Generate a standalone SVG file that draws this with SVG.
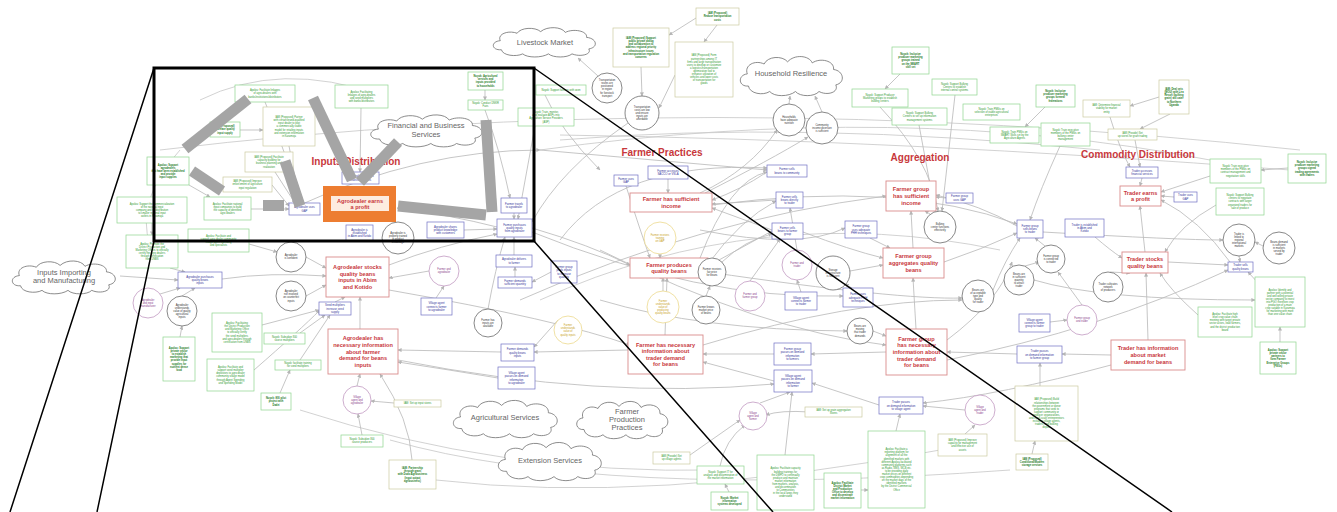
<svg xmlns="http://www.w3.org/2000/svg" width="1337" height="512" viewBox="0 0 1337 512">
<defs>
<style>
text{font-family:"Liberation Sans",Arial,sans-serif;text-anchor:middle}
.c path{fill:none;stroke:#bcbcbc;stroke-width:0.85;marker-end:url(#a)}
.c path.L{marker-end:none;stroke:#cacaca}
.nr{fill:#fff;stroke:#d98c8c;stroke-width:0.9}
.tr{font-size:5.6px;font-weight:bold;fill:#c8383c}
.nb{fill:#fff;stroke:#6f6fc4;stroke-width:0.7}
.tb{font-size:2.8px;fill:#34349a}
.ng{fill:#fff;stroke:#8ed58e;stroke-width:0.7}
.ny{fill:#fff;stroke:#cbcaa0;stroke-width:0.7}
.tg{font-size:2.6px;fill:#2f9a2f}
.tgb{font-size:2.6px;font-weight:bold;fill:#1d7a1d}
.ck{fill:#fff;stroke:#555;stroke-width:0.7}
.tk{font-size:2.6px;fill:#333}
.cp{fill:#fff;stroke:#b98bb9;stroke-width:0.7}
.tp{font-size:2.6px;fill:#8b3d8b}
.cy{fill:#fff;stroke:#e9d47c;stroke-width:0.7}
.ty{font-size:2.6px;fill:#c9a21a}
.cl{fill:#fff;stroke:#6e6e6e;stroke-width:0.8}
.tc{font-size:7.5px;fill:#666666}
.h{font-size:10px;font-weight:bold;fill:#c8383c}
.bar{stroke:#a5a5a5;stroke-width:11;fill:none}
</style>
<marker id="a" markerUnits="userSpaceOnUse" markerWidth="4" markerHeight="4" refX="3.6" refY="2" orient="auto"><path d="M0,0 L4,2 L0,4 Z" fill="#b5b5b5"/></marker>
<path id="cloudp" d="M12,30 C3,31 2,20 11,19 C8,11 18,6 26,10 C29,3 42,2 47,8 C53,1 66,2 69,9 C76,4 89,7 88,15 C97,16 99,27 90,29 C93,36 82,39 75,35 C71,40 58,40 54,35 C48,40 35,40 31,35 C25,39 13,37 12,30 Z" class="cl" vector-effect="non-scaling-stroke"/>
</defs>
<rect width="1337" height="512" fill="#fff"/>

<g id="connectors" class="c">
<path class="L" d="M160,150 Q700,85 1300,150"/>
<path class="L" d="M540,150 Q900,100 1210,160"/>
<path class="L" d="M436,480 Q650,505 940,450"/>
<path class="L" d="M300,410 Q500,475 720,470"/>
<path class="L" d="M180,150 Q135,200 150,245"/>
<path class="L" d="M200,100 Q280,60 380,95"/>
<path class="L" d="M560,140 Q800,120 1100,150"/>
<path class="L" d="M540,300 Q760,200 1000,250"/>
<path class="L" d="M390,440 Q600,500 1010,470"/>
<path class="L" d="M560,135 Q900,140 1290,170"/>
<path d="M497,227 Q450,215 397,208"/>
<path d="M464,230 L497,229"/>
<path d="M514,213 L514,219"/>
<path d="M514,255 L514,237"/>
<path d="M515,277 L515,267"/>
<path d="M551,272 L532,282"/>
<path d="M389,265 Q440,245 497,234"/>
<path d="M306,257 L326,268"/>
<path d="M306,296 L326,285"/>
<path d="M222,279 Q270,272 326,276"/>
<path d="M120,276 L178,280"/>
<path d="M160,294 L180,288"/>
<path d="M182,296 L195,288"/>
<path d="M335,302 L345,297"/>
<path d="M360,329 L360,297"/>
<path d="M357,386 L360,374"/>
<path d="M498,378 Q450,370 398,362"/>
<path d="M501,352 L398,350"/>
<path d="M429,271 L389,278"/>
<path d="M436,298 L444,286"/>
<path d="M488,309 Q495,270 505,237"/>
<path d="M558,320 L534,347"/>
<path d="M628,350 L534,352"/>
<path d="M532,228 Q590,245 630,265"/>
<path d="M626,186 Q640,230 650,258"/>
<path d="M660,254 L660,258"/>
<path d="M663,291 L663,278"/>
<path d="M708,266 L772,231"/>
<path d="M708,264 Q740,220 776,201"/>
<path d="M700,258 Q730,180 767,172"/>
<path d="M767,172 Q740,190 712,200"/>
<path d="M776,200 L712,204"/>
<path d="M772,230 L712,208"/>
<path d="M668,179 L668,193"/>
<path d="M700,193 Q750,170 777,130"/>
<path d="M705,193 Q770,160 808,137"/>
<path d="M789,104 L790,96"/>
<path d="M822,112 L815,96"/>
<path d="M598,76 L578,58"/>
<path d="M641,67 L642,96"/>
<path d="M717,25 L704,42"/>
<path d="M696,18 L669,35"/>
<path d="M675,75 L659,108"/>
<path d="M628,123 Q560,170 532,222"/>
<path d="M797,250 L790,208"/>
<path d="M801,292 L797,280"/>
<path d="M750,281 L780,239"/>
<path d="M722,262 Q745,240 772,234"/>
<path d="M706,296 L710,286"/>
<path d="M852,288 L845,284"/>
<path d="M850,271 L883,265"/>
<path d="M870,238 L890,248"/>
<path d="M913,248 L911,211"/>
<path d="M930,214 L925,211"/>
<path d="M946,198 L936,197"/>
<path d="M880,107 Q930,160 938,211"/>
<path d="M955,95 L942,211"/>
<path d="M919,125 L935,211"/>
<path d="M803,232 Q850,250 883,258"/>
<path d="M993,290 Q1005,260 1020,238"/>
<path d="M1017,226 Q980,205 936,195"/>
<path d="M944,262 Q980,250 1017,233"/>
<path d="M1045,246 L1035,238"/>
<path d="M1025,266 L1039,262"/>
<path d="M1082,305 L1058,272"/>
<path d="M1050,322 L1067,320"/>
<path d="M1095,237 Q1110,250 1122,258"/>
<path d="M1110,272 L1130,273"/>
<path d="M1145,252 L1140,206"/>
<path d="M1142,178 L1140,186"/>
<path d="M1174,197 L1161,196"/>
<path d="M1230,262 Q1200,220 1161,200"/>
<path d="M1239,256 L1240,262"/>
<path d="M1263,246 L1255,242"/>
<path d="M1148,340 L1146,273"/>
<path d="M1111,355 L1062,354"/>
<path d="M1017,354 L947,352"/>
<path d="M886,352 L811,354"/>
<path d="M774,354 L703,354"/>
<path d="M774,381 L703,362"/>
<path d="M879,405 L812,383"/>
<path d="M965,410 L923,406"/>
<path d="M760,403 L790,392"/>
<path d="M1111,365 Q1000,395 923,403"/>
<path d="M873,331 L886,336"/>
<path d="M916,329 L913,278"/>
<path d="M665,335 L667,278"/>
<path d="M265,102 Q285,150 300,203"/>
<path d="M289,146 L300,203"/>
<path d="M240,130 L263,130"/>
<path d="M275,172 L295,203"/>
<path d="M189,185 L210,197"/>
<path d="M272,185 L289,206"/>
<path d="M251,209 L289,209"/>
<path d="M152,223 L152,235"/>
<path d="M249,244 L277,252"/>
<path d="M170,268 L185,272"/>
<path d="M361,108 L360,172"/>
<path d="M485,90 L485,100"/>
<path d="M485,110 Q500,150 510,198"/>
<path d="M545,95 Q560,130 600,170"/>
<path d="M535,126 L518,219"/>
<path d="M900,74 L885,89"/>
<path d="M1045,107 L1025,127"/>
<path d="M1060,146 Q1040,190 1030,220"/>
<path d="M1110,117 Q1120,150 1130,167"/>
<path d="M1159,97 L1130,106"/>
<path d="M1170,114 L1140,129"/>
<path d="M1135,140 L1140,167"/>
<path d="M1288,168 L1261,170"/>
<path d="M1210,176 L1161,192"/>
<path d="M1216,205 Q1180,225 1165,252"/>
<path d="M1260,285 L1248,272"/>
<path d="M1198,315 Q1170,290 1160,273"/>
<path d="M1280,342 L1280,327"/>
<path d="M1040,386 L1040,363"/>
<path d="M1032,454 L1035,441"/>
<path d="M965,434 L975,425"/>
<path d="M810,412 Q780,410 766,415"/>
<path d="M896,431 L900,414"/>
<path d="M861,490 L868,490"/>
<path d="M785,455 L792,392"/>
<path d="M729,492 L725,484"/>
<path d="M720,466 Q725,440 745,425"/>
<path d="M690,455 L740,420"/>
<path d="M394,403 L371,401"/>
<path d="M362,435 L358,414"/>
<path d="M412,460 Q410,420 380,374"/>
<path d="M180,337 L182,326"/>
<path d="M254,370 Q300,330 320,310"/>
<path d="M262,325 L319,310"/>
<path d="M300,333 L325,315"/>
<path d="M300,360 L330,315"/>
<path d="M280,393 L290,370"/>
<path d="M712,205 Q900,180 1017,224"/>
<path d="M708,272 Q900,300 962,298"/>
<path d="M703,345 Q850,300 962,300"/>
<path d="M540,150 L767,170"/>
<path d="M600,300 Q700,330 847,331"/>
<path d="M947,360 Q1100,330 1228,270"/>
<path d="M1034,280 Q1100,300 1255,300"/>
<path d="M700,230 Q800,250 845,228"/>
<path d="M560,240 Q620,160 767,168"/>
<path d="M520,300 Q700,220 886,196"/>
<path d="M398,360 Q600,400 774,384"/>
<path d="M389,290 Q560,320 630,345"/>
<path d="M947,340 Q1000,300 1012,262"/>
<path d="M1168,262 L1228,265"/>
<path d="M300,205 Q420,150 540,150"/>
<path d="M532,232 Q700,300 843,296"/>
<path d="M600,250 Q760,330 886,345"/>
<path d="M1043,232 Q1180,240 1223,240"/>
</g>

<g id="clouds">
<g id="cloud-livestock"><use href="#cloudp" transform="translate(488,25) scale(1.12,0.825)"/><text class="tc" x="545" y="45">Livestock Market</text></g>
<g id="cloud-household"><use href="#cloudp" transform="translate(735,53) scale(1.12,1.1)"/><text class="tc" x="791" y="76">Household Resilience</text></g>
<g id="cloud-financial"><use href="#cloudp" transform="translate(365,112) scale(1.22,0.9)"/><text class="tc" x="426" y="128">Financial and Business<tspan x="426" dy="8.5">Services</tspan></text></g>
<g id="cloud-inputs"><use href="#cloudp" transform="translate(7,258) scale(1.13,0.925)"/><text class="tc" x="64" y="275">Inputs Importing<tspan x="64" dy="8">and Manufacturing</tspan></text></g>
<g id="cloud-agri"><use href="#cloudp" transform="translate(448,397) scale(1.14,1.05)"/><text class="tc" x="505" y="420">Agricultural Services</text></g>
<g id="cloud-fpp"><use href="#cloudp" transform="translate(572,398) scale(1.0,1.05)"/><text class="tc" x="627" y="414">Farmer<tspan x="627" dy="8">Production</tspan><tspan x="627" dy="8">Practices</tspan></text></g>
<g id="cloud-ext"><use href="#cloudp" transform="translate(493,439) scale(1.13,1.075)"/><text class="tc" x="550" y="463">Extension Services</text></g>
</g>

<g id="headings">
<text class="h" x="356" y="165">Inputs Distribution</text>
<text class="h" x="662" y="156">Farmer Practices</text>
<text class="h" x="920" y="161">Aggregation</text>
<text class="h" x="1138" y="158">Commodity Distribution</text>
</g>

<g id="outcomes">
<g id="r1"><rect x="323" y="186" width="73" height="36" fill="#ed7d31"/><rect x="331" y="196" width="58" height="15" fill="#fff" opacity="0.85"/><text class="tr" x="360" y="202.7">Agrodealer earns<tspan x="360" dy="6.6">a profit</tspan></text></g>
<g id="r2"><rect class="nr" x="326" y="257" width="63" height="40"/><text class="tr" x="357.5" y="269.1">Agrodealer stocks<tspan x="357.5" dy="6.6">quality beans</tspan><tspan x="357.5" dy="6.6">inputs in Abim</tspan><tspan x="357.5" dy="6.6">and Kotido</tspan></text></g>
<g id="r3"><rect class="nr" x="328" y="329" width="70" height="45"/><text class="tr" x="363" y="340.3">Agrodealer has<tspan x="363" dy="6.6">necessary information</tspan><tspan x="363" dy="6.6">about farmer</tspan><tspan x="363" dy="6.6">demand for beans</tspan><tspan x="363" dy="6.6">inputs</tspan></text></g>
<g id="r4"><rect class="nr" x="630" y="193" width="82" height="19"/><text class="tr" x="671" y="201.2">Farmer has sufficient<tspan x="671" dy="6.6">income</tspan></text></g>
<g id="r5"><rect class="nr" x="630" y="258" width="78" height="20"/><text class="tr" x="669" y="266.7">Farmer produces<tspan x="669" dy="6.6">quality beans</tspan></text></g>
<g id="r6"><rect class="nr" x="628" y="335" width="75" height="39"/><text class="tr" x="665.5" y="346.6">Farmer has necessary<tspan x="665.5" dy="6.6">information about</tspan><tspan x="665.5" dy="6.6">trader demand</tspan><tspan x="665.5" dy="6.6">for beans</tspan></text></g>
<g id="r7"><rect class="nr" x="886" y="181" width="50" height="30"/><text class="tr" x="911" y="191.4">Farmer group<tspan x="911" dy="6.6">has sufficient</tspan><tspan x="911" dy="6.6">income</tspan></text></g>
<g id="r8"><rect class="nr" x="883" y="248" width="61" height="30"/><text class="tr" x="913.5" y="258.4">Farmer group<tspan x="913.5" dy="6.6">aggregates quality</tspan><tspan x="913.5" dy="6.6">beans</tspan></text></g>
<g id="r9"><rect class="nr" x="886" y="329" width="61" height="46"/><text class="tr" x="916.5" y="340.8">Farmer group<tspan x="916.5" dy="6.6">has necessary</tspan><tspan x="916.5" dy="6.6">information about</tspan><tspan x="916.5" dy="6.6">trader demand</tspan><tspan x="916.5" dy="6.6">for beans</tspan></text></g>
<g id="r10"><rect class="nr" x="1120" y="186" width="41" height="20"/><text class="tr" x="1140.5" y="194.7">Trader earns<tspan x="1140.5" dy="6.6">a profit</tspan></text></g>
<g id="r11"><rect class="nr" x="1122" y="252" width="46" height="21"/><text class="tr" x="1145" y="261.2">Trader stocks<tspan x="1145" dy="6.6">quality beans</tspan></text></g>
<g id="r12"><rect class="nr" x="1111" y="340" width="74" height="30"/><text class="tr" x="1148" y="350.4">Trader has information<tspan x="1148" dy="6.6">about market</tspan><tspan x="1148" dy="6.6">demand for beans</tspan></text></g>
</g>

<g id="activities">
<g id="b1"><rect class="nb" x="289" y="203" width="31" height="12"/><text class="tb" x="304.5" y="208.35">Agrodealer uses<tspan x="304.5" dy="3.3">GAP</tspan></text></g>
<g id="b2"><rect class="nb" x="342" y="172" width="37" height="12"/><text class="tb" x="360.5" y="177.35">Agrodealer accesses<tspan x="360.5" dy="3.3">financial services</tspan></text></g>
<g id="b3"><rect class="nb" x="346" y="225" width="27" height="16"/><text class="tb" x="359.5" y="230.7">Agrodealer is<tspan x="359.5" dy="3.3">established</tspan><tspan x="359.5" dy="3.3">in Abim and Kotido</tspan></text></g>
<g id="b4"><rect class="nb" x="427" y="222" width="37" height="16"/><text class="tb" x="445.5" y="227.7">Agrodealer shares<tspan x="445.5" dy="3.3">product knowledge</tspan><tspan x="445.5" dy="3.3">with customers</tspan></text></g>
<g id="b5"><rect class="nb" x="501" y="198" width="26" height="15"/><text class="tb" x="514" y="204.85">Farmer travels<tspan x="514" dy="3.3">to agrodealer</tspan></text></g>
<g id="b6"><rect class="nb" x="497" y="219" width="35" height="18"/><text class="tb" x="514.5" y="225.7">Farmer purchases<tspan x="514.5" dy="3.3">quality inputs</tspan><tspan x="514.5" dy="3.3">from agrodealer</tspan></text></g>
<g id="b7"><rect class="nb" x="496" y="255" width="36" height="12"/><text class="tb" x="514" y="260.35">Agrodealer delivers<tspan x="514" dy="3.3">to farmer</tspan></text></g>
<g id="b8"><rect class="nb" x="498" y="277" width="34" height="11"/><text class="tb" x="515" y="281.85">Farmer demands<tspan x="515" dy="3.3">sufficient quantity</tspan></text></g>
<g id="b9"><rect class="nb" x="551" y="261" width="26" height="22"/><text class="tb" x="564" y="268.05">Farmer group<tspan x="564" dy="3.3">pools inputs</tspan><tspan x="564" dy="3.3">to increase</tspan><tspan x="564" dy="3.3">quantity</tspan></text></g>
<g id="b10"><rect class="nb" x="178" y="272" width="44" height="16"/><text class="tb" x="200" y="277.7">Agrodealer purchases<tspan x="200" dy="3.3">quality beans</tspan><tspan x="200" dy="3.3">inputs</tspan></text></g>
<g id="b11"><rect class="nb" x="319" y="302" width="32" height="13"/><text class="tb" x="335" y="306.2">Seed multipliers<tspan x="335" dy="3.3">increase seed</tspan><tspan x="335" dy="3.3">supply</tspan></text></g>
<g id="b12"><rect class="nb" x="501" y="344" width="33" height="17"/><text class="tb" x="517.5" y="350.2">Farmer demands<tspan x="517.5" dy="3.3">quality beans</tspan><tspan x="517.5" dy="3.3">inputs</tspan></text></g>
<g id="b13"><rect class="nb" x="498" y="367" width="37" height="22"/><text class="tb" x="516.5" y="374.05">Village agent<tspan x="516.5" dy="3.3">passes on demand</tspan><tspan x="516.5" dy="3.3">information</tspan><tspan x="516.5" dy="3.3">to agrodealer</tspan></text></g>
<g id="b14"><rect class="nb" x="421" y="298" width="31" height="17"/><text class="tb" x="436.5" y="304.2">Village agent<tspan x="436.5" dy="3.3">connects farmer</tspan><tspan x="436.5" dy="3.3">to agrodealer</tspan></text></g>
<g id="b15"><rect class="nb" x="648" y="166" width="40" height="13"/><text class="tb" x="668" y="171.85">Farmer accesses<tspan x="668" dy="3.3">SACCO or VSLA</tspan></text></g>
<g id="b16"><rect class="nb" x="614" y="175" width="24" height="11"/><text class="tb" x="626" y="179.85">Farmer uses<tspan x="626" dy="3.3">GAP</tspan></text></g>
<g id="b17"><rect class="nb" x="767" y="165" width="40" height="12"/><text class="tb" x="787" y="170.35">Farmer sells<tspan x="787" dy="3.3">beans to community</tspan></text></g>
<g id="b18"><rect class="nb" x="776" y="192" width="27" height="16"/><text class="tb" x="789.5" y="197.7">Farmer sells<tspan x="789.5" dy="3.3">beans directly</tspan><tspan x="789.5" dy="3.3">to trader</tspan></text></g>
<g id="b19"><rect class="nb" x="772" y="223" width="31" height="16"/><text class="tb" x="787.5" y="228.7">Farmer sells<tspan x="787.5" dy="3.3">beans to farmer</tspan><tspan x="787.5" dy="3.3">group</tspan></text></g>
<g id="b20"><rect class="nb" x="845" y="221" width="32" height="17"/><text class="tb" x="861" y="227.2">Farmer group<tspan x="861" dy="3.3">uses adequate</tspan><tspan x="861" dy="3.3">PHH techniques</tspan></text></g>
<g id="b21"><rect class="nb" x="946" y="193" width="27" height="10"/><text class="tb" x="959.5" y="197.35">Farmer group<tspan x="959.5" dy="3.3">uses GAP</tspan></text></g>
<g id="b22"><rect class="nb" x="785" y="292" width="32" height="18"/><text class="tb" x="801" y="298.7">Village agent<tspan x="801" dy="3.3">connects farmer</tspan><tspan x="801" dy="3.3">to trader</tspan></text></g>
<g id="b23"><rect class="nb" x="843" y="288" width="30" height="19"/><text class="tb" x="858" y="295.2">Farmer uses<tspan x="858" dy="3.3">adequate PHH</tspan><tspan x="858" dy="3.3">techniques</tspan></text></g>
<g id="b24"><rect class="nb" x="774" y="343" width="37" height="22"/><text class="tb" x="792.5" y="350.05">Farmer group<tspan x="792.5" dy="3.3">passes on demand</tspan><tspan x="792.5" dy="3.3">information</tspan><tspan x="792.5" dy="3.3">to farmers</tspan></text></g>
<g id="b25"><rect class="nb" x="774" y="370" width="38" height="22"/><text class="tb" x="793" y="377.05">Village agent<tspan x="793" dy="3.3">passes on demand</tspan><tspan x="793" dy="3.3">information</tspan><tspan x="793" dy="3.3">to farmer</tspan></text></g>
<g id="b26"><rect class="nb" x="879" y="397" width="44" height="17"/><text class="tb" x="901" y="403.2">Trader passes<tspan x="901" dy="3.3">on demand information</tspan><tspan x="901" dy="3.3">to village agent</tspan></text></g>
<g id="b27"><rect class="nb" x="1017" y="346" width="45" height="17"/><text class="tb" x="1039.5" y="352.2">Trader passes<tspan x="1039.5" dy="3.3">on demand information</tspan><tspan x="1039.5" dy="3.3">to farmer group</tspan></text></g>
<g id="b28"><rect class="nb" x="1126" y="167" width="32" height="11"/><text class="tb" x="1142" y="171.85">Trader accesses<tspan x="1142" dy="3.3">financial services</tspan></text></g>
<g id="b29"><rect class="nb" x="1174" y="192" width="23" height="10"/><text class="tb" x="1185.5" y="196.35">Trader uses<tspan x="1185.5" dy="3.3">GAP</tspan></text></g>
<g id="b30"><rect class="nb" x="1017" y="220" width="26" height="18"/><text class="tb" x="1030" y="226.7">Farmer group<tspan x="1030" dy="3.3">sells beans</tspan><tspan x="1030" dy="3.3">to trader</tspan></text></g>
<g id="b31"><rect class="nb" x="1065" y="219" width="39" height="18"/><text class="tb" x="1084.5" y="225.7">Trader is established<tspan x="1084.5" dy="3.3">in Abim and</tspan><tspan x="1084.5" dy="3.3">Kotido</tspan></text></g>
<g id="b32"><rect class="nb" x="1228" y="262" width="25" height="10"/><text class="tb" x="1240.5" y="266.35">Trader sells<tspan x="1240.5" dy="3.3">quality beans</tspan></text></g>
<g id="b33"><rect class="nb" x="1019" y="314" width="31" height="18"/><text class="tb" x="1034.5" y="320.7">Village agent<tspan x="1034.5" dy="3.3">connects farmer</tspan><tspan x="1034.5" dy="3.3">group to trader</tspan></text></g>
</g>

<g id="conditions">
<g id="c1"><circle class="ck" cx="607" cy="88" r="15"/><text class="tk" x="607" y="81.15">Transportation<tspan x="607" dy="3.1">routes are</tspan><tspan x="607" dy="3.1">positioned</tspan><tspan x="607" dy="3.1">in region</tspan><tspan x="607" dy="3.1">for livestock</tspan><tspan x="607" dy="3.1">transport</tspan></text></g>
<g id="c2"><circle class="ck" cx="642" cy="113" r="17"/><text class="tk" x="642" y="107.7">Transportation<tspan x="642" dy="3.1">costs are low</tspan><tspan x="642" dy="3.1">and ensure</tspan><tspan x="642" dy="3.1">inputs are</tspan><tspan x="642" dy="3.1">affordable</tspan></text></g>
<g id="c3"><circle class="ck" cx="789" cy="120" r="16"/><text class="tk" x="789" y="117.8">Households<tspan x="789" dy="3.1">have adequate</tspan><tspan x="789" dy="3.1">nutrition</tspan></text></g>
<g id="c4"><circle class="ck" cx="822" cy="128" r="16"/><text class="tk" x="822" y="125.8">Community<tspan x="822" dy="3.1">income diversion</tspan><tspan x="822" dy="3.1">is sufficient</tspan></text></g>
<g id="c5"><circle class="ck" cx="940" cy="227" r="16"/><text class="tk" x="940" y="224.8">Bulking<tspan x="940" dy="3.1">center functions</tspan><tspan x="940" dy="3.1">effectively</tspan></text></g>
<g id="c6"><circle class="ck" cx="833" cy="273" r="17"/><text class="tk" x="833" y="270.8">Storage<tspan x="833" dy="3.1">infrastructure</tspan><tspan x="833" dy="3.1">is sufficient</tspan></text></g>
<g id="c7"><circle class="ck" cx="706" cy="310" r="14"/><text class="tk" x="706" y="307.8">Farmer knows<tspan x="706" dy="3.1">market price</tspan><tspan x="706" dy="3.1">of beans</tspan></text></g>
<g id="c8"><circle class="ck" cx="712" cy="272" r="14"/><text class="tk" x="712" y="269.8">Farmer receives<tspan x="712" dy="3.1">fair price</tspan><tspan x="712" dy="3.1">for beans</tspan></text></g>
<g id="c9"><circle class="ck" cx="978" cy="296" r="16"/><text class="tk" x="978" y="290.7">Beans are<tspan x="978" dy="3.1">of acceptable</tspan><tspan x="978" dy="3.1">type and</tspan><tspan x="978" dy="3.1">quality</tspan><tspan x="978" dy="3.1">for trader</tspan></text></g>
<g id="c10"><circle class="ck" cx="860" cy="331" r="13"/><text class="tk" x="860" y="327.25">Beans are<tspan x="860" dy="3.1">moving</tspan><tspan x="860" dy="3.1">that trader</tspan><tspan x="860" dy="3.1">demands</tspan></text></g>
<g id="c11"><circle class="ck" cx="1051" cy="259" r="14"/><text class="tk" x="1051" y="256.8">Farmer group<tspan x="1051" dy="3.1">is connected</tspan><tspan x="1051" dy="3.1">to trader</tspan></text></g>
<g id="c12"><circle class="ck" cx="1019" cy="280" r="15"/><text class="tk" x="1019" y="274.7">Beans are<tspan x="1019" dy="3.1">in sufficient</tspan><tspan x="1019" dy="3.1">quantity</tspan><tspan x="1019" dy="3.1">to attract</tspan><tspan x="1019" dy="3.1">trader</tspan></text></g>
<g id="c13"><circle class="ck" cx="1108" cy="287" r="15"/><text class="tk" x="1108" y="284.8">Trader cultivates<tspan x="1108" dy="3.1">network</tspan><tspan x="1108" dy="3.1">of producers</tspan></text></g>
<g id="c14"><circle class="ck" cx="1239" cy="240" r="16"/><text class="tk" x="1239" y="234.7">Trader is<tspan x="1239" dy="3.1">linked to</tspan><tspan x="1239" dy="3.1">regional</tspan><tspan x="1239" dy="3.1">international</tspan><tspan x="1239" dy="3.1">markets</tspan></text></g>
<g id="c15"><circle class="ck" cx="1279" cy="248" r="16"/><text class="tk" x="1279" y="242.7">Beans demand<tspan x="1279" dy="3.1">is sufficient</tspan><tspan x="1279" dy="3.1">in markets</tspan><tspan x="1279" dy="3.1">served by</tspan><tspan x="1279" dy="3.1">trader</tspan></text></g>
<g id="c16"><circle class="ck" cx="291" cy="257" r="15"/><text class="tk" x="291" y="256.35">Agrodealer<tspan x="291" dy="3.1">is confident</tspan></text></g>
<g id="c17"><circle class="ck" cx="291" cy="296" r="15"/><text class="tk" x="291" y="292.25">Agrodealer<tspan x="291" dy="3.1">not involved</tspan><tspan x="291" dy="3.1">on counterfeit</tspan><tspan x="291" dy="3.1">inputs</tspan></text></g>
<g id="c18"><circle class="ck" cx="182" cy="311" r="15"/><text class="tk" x="182" y="305.7">Agrodealer<tspan x="182" dy="3.1">understands</tspan><tspan x="182" dy="3.1">value of quality</tspan><tspan x="182" dy="3.1">agricultural</tspan><tspan x="182" dy="3.1">inputs</tspan></text></g>
<g id="c19"><circle class="ck" cx="488" cy="323" r="14"/><text class="tk" x="488" y="320.8">Farmer has<tspan x="488" dy="3.1">inputs are</tspan><tspan x="488" dy="3.1">available</tspan></text></g>
<g id="c20"><circle class="ck" cx="398" cy="238" r="16"/><text class="tk" x="398" y="233.5">Agrodealer is<tspan x="398" dy="3.1">properly trained</tspan><tspan x="398" dy="3.1">in product</tspan><tspan x="398" dy="3.1">knowledge</tspan></text></g>
<g id="p1"><circle class="cp" cx="148" cy="303" r="15"/><text class="tp" x="148" y="300.8">Agrodealer<tspan x="148" dy="3.1">and input</tspan><tspan x="148" dy="3.1">manufacturer</tspan></text></g>
<g id="p2"><circle class="cp" cx="444" cy="271" r="15"/><text class="tp" x="444" y="270.35">Farmer and<tspan x="444" dy="3.1">agrodealer</tspan></text></g>
<g id="p3"><circle class="cp" cx="357" cy="400" r="14"/><text class="tp" x="357" y="397.8">Village<tspan x="357" dy="3.1">agent and</tspan><tspan x="357" dy="3.1">agrodealer</tspan></text></g>
<g id="p4"><circle class="cp" cx="797" cy="265" r="15"/><text class="tp" x="797" y="264.35">Farmer and<tspan x="797" dy="3.1">trader</tspan></text></g>
<g id="p5"><circle class="cp" cx="750" cy="296" r="15"/><text class="tp" x="750" y="295.35">Farmer and<tspan x="750" dy="3.1">farmer group</tspan></text></g>
<g id="p6"><circle class="cp" cx="753" cy="416" r="14"/><text class="tp" x="753" y="413.8">Village<tspan x="753" dy="3.1">agent and</tspan><tspan x="753" dy="3.1">farmer</tspan></text></g>
<g id="p7"><circle class="cp" cx="1082" cy="320" r="15"/><text class="tp" x="1082" y="319.35">Farmer group<tspan x="1082" dy="3.1">and trader</tspan></text></g>
<g id="p8"><circle class="cp" cx="980" cy="410" r="15"/><text class="tp" x="980" y="407.8">Village<tspan x="980" dy="3.1">agent and</tspan><tspan x="980" dy="3.1">trader</tspan></text></g>
<g id="y1"><circle class="cy" cx="660" cy="238" r="16"/><text class="ty" x="660" y="235.8">Farmer receives<tspan x="660" dy="3.1">training</tspan><tspan x="660" dy="3.1">on GAP</tspan></text></g>
<g id="y2"><circle class="cy" cx="663" cy="307" r="16"/><text class="ty" x="663" y="301.7">Farmer<tspan x="663" dy="3.1">understands</tspan><tspan x="663" dy="3.1">value of</tspan><tspan x="663" dy="3.1">producing</tspan><tspan x="663" dy="3.1">quality beans</tspan></text></g>
<g id="y3"><circle class="cy" cx="568" cy="330" r="14"/><text class="ty" x="568" y="326.25">Farmer<tspan x="568" dy="3.1">understands</tspan><tspan x="568" dy="3.1">value of</tspan><tspan x="568" dy="3.1">quality inputs</tspan></text></g>
</g>

<g id="interventions">
<g id="g1"><rect class="ng" x="235" y="85" width="60" height="17"/><text class="tg" x="265" y="91.3">Apolou: Facilitate linkages<tspan x="265" dy="3.1">of agro-dealers with</tspan><tspan x="265" dy="3.1">banks/institutions/distributors</tspan></text></g>
<g id="g2"><rect class="ny" x="263" y="107" width="52" height="39"/><text class="tg" x="289" y="118.1">IAM (Proposed) Partner<tspan x="289" dy="3.1">with certain brand-qualified</tspan><tspan x="289" dy="3.1">input dealer to pilot</tspan><tspan x="289" dy="3.1">a commercially viable</tspan><tspan x="289" dy="3.1">model for retailing inputs</tspan><tspan x="289" dy="3.1">and extension information</tspan><tspan x="289" dy="3.1">in Karamoja</tspan></text></g>
<g id="g3"><rect class="ng" x="210" y="122" width="30" height="15"/><text class="tgb" x="225" y="127.3">IAM (Proposed)<tspan x="225" dy="3.1">Increase quality</tspan><tspan x="225" dy="3.1">input supply</tspan></text></g>
<g id="g4"><rect class="ny" x="245" y="152" width="48" height="20"/><text class="tg" x="269" y="158.25">IAM (Proposed) Facilitate<tspan x="269" dy="3.1">capacity building for</tspan><tspan x="269" dy="3.1">business planning and</tspan><tspan x="269" dy="3.1">realization</tspan></text></g>
<g id="g5"><rect class="ng" x="147" y="157" width="42" height="28"/><text class="tgb" x="168" y="165.7">Apolou: Support<tspan x="168" dy="3.1">agrodealers</tspan><tspan x="168" dy="3.1">that have been established</tspan><tspan x="168" dy="3.1">and provide</tspan><tspan x="168" dy="3.1">input supplies</tspan></text></g>
<g id="g6"><rect class="ny" x="223" y="177" width="49" height="15"/><text class="tg" x="247.5" y="182.3">IAM (Proposed) Improve<tspan x="247.5" dy="3.1">enforcement of agriculture</tspan><tspan x="247.5" dy="3.1">input regulation</tspan></text></g>
<g id="g7"><rect class="ng" x="204" y="197" width="47" height="23"/><text class="tg" x="227.5" y="204.75">Apolou: Facilitate national<tspan x="227.5" dy="3.1">input companies to build</tspan><tspan x="227.5" dy="3.1">the capacity of identified</tspan><tspan x="227.5" dy="3.1">agro dealers</tspan></text></g>
<g id="g8"><rect class="ng" x="117" y="197" width="70" height="26"/><text class="tg" x="152" y="204.7">Apolou: Support the commercialization<tspan x="152" dy="3.1">of the national input</tspan><tspan x="152" dy="3.1">company and its distribution</tspan><tspan x="152" dy="3.1">to smaller regional input</tspan><tspan x="152" dy="3.1">outlets in Karamoja</tspan></text></g>
<g id="g9"><rect class="ng" x="188" y="229" width="61" height="23"/><text class="tg" x="218.5" y="236.75">Apolou: Facilitate and<tspan x="218.5" dy="3.1">support agro dealer community</tspan><tspan x="218.5" dy="3.1">village agent spending</tspan><tspan x="218.5" dy="3.1">and specialists</tspan></text></g>
<g id="g10"><rect class="ng" x="126" y="235" width="52" height="33"/><text class="tg" x="152" y="244.65">Apolou: Promote the<tspan x="152" dy="3.1">District Production and</tspan><tspan x="152" dy="3.1">Marketing Offices to officially</tspan><tspan x="152" dy="3.1">certify the agro dealers</tspan><tspan x="152" dy="3.1">through certification</tspan><tspan x="152" dy="3.1">from UNBS</tspan></text></g>
<g id="g11"><rect class="ng" x="335" y="85" width="53" height="23"/><text class="tg" x="361.5" y="92.75">Apolou: Facilitating<tspan x="361.5" dy="3.1">linkages of agro-dealers</tspan><tspan x="361.5" dy="3.1">and seed multipliers</tspan><tspan x="361.5" dy="3.1">with banks/distributors</tspan></text></g>
<g id="g12"><rect class="ng" x="468" y="72" width="35" height="18"/><text class="tgb" x="485.5" y="77.25">Nuyok: Agricultural<tspan x="485.5" dy="3.1">services and</tspan><tspan x="485.5" dy="3.1">inputs provided</tspan><tspan x="485.5" dy="3.1">to households</tspan></text></g>
<g id="g13"><rect class="ng" x="468" y="100" width="35" height="10"/><text class="tg" x="485.5" y="104.35">Nuyok: Conduct DNKR<tspan x="485.5" dy="3.1">Fairs</tspan></text></g>
<g id="g14"><rect class="ng" x="536" y="85" width="50" height="10"/><text class="tg" x="561" y="90.9">Nuyok: Support farmers with oxen</text></g>
<g id="g15"><rect class="ng" x="518" y="108" width="56" height="18"/><text class="tg" x="546" y="113.25">Nuyok: Train, monitor,<tspan x="546" dy="3.1">and evaluate ASPs into</tspan><tspan x="546" dy="3.1">Agriculture Service Providers</tspan><tspan x="546" dy="3.1">(ASP)</tspan></text></g>
<g id="g16"><rect class="ny" x="613" y="28" width="56" height="39"/><text class="tgb" x="641" y="39.1">IAM (Proposed) Support<tspan x="641" dy="3.1">public private dialog</tspan><tspan x="641" dy="3.1">and collaboration to</tspan><tspan x="641" dy="3.1">address regional priority</tspan><tspan x="641" dy="3.1">infrastructure issues</tspan><tspan x="641" dy="3.1">and transportation regulation</tspan><tspan x="641" dy="3.1">concerns</tspan></text></g>
<g id="g17"><rect class="ny" x="696" y="8" width="43" height="17"/><text class="tgb" x="717.5" y="14.3">IAM (Proposed)<tspan x="717.5" dy="3.1">Reduce transportation</tspan><tspan x="717.5" dy="3.1">costs</tspan></text></g>
<g id="g18"><rect class="ny" x="675" y="42" width="58" height="55"/><text class="tg" x="704" y="56.45">IAM (Proposed) Form<tspan x="704" dy="3.1">partnerships among IT</tspan><tspan x="704" dy="3.1">firms and large transportation</tspan><tspan x="704" dy="3.1">users to develop or customize</tspan><tspan x="704" dy="3.1">a logistics/transportation</tspan><tspan x="704" dy="3.1">optimization tool to</tspan><tspan x="704" dy="3.1">enhance utilization of</tspan><tspan x="704" dy="3.1">vehicles and lower costs</tspan><tspan x="704" dy="3.1">of transportation for</tspan><tspan x="704" dy="3.1">goods</tspan></text></g>
<g id="g19"><rect class="ng" x="892" y="47" width="37" height="27"/><text class="tgb" x="910.5" y="55.2">Nuyok: Inclusive<tspan x="910.5" dy="3.1">producer marketing</tspan><tspan x="910.5" dy="3.1">groups trained</tspan><tspan x="910.5" dy="3.1">on the SMART</tspan><tspan x="910.5" dy="3.1">skill set</tspan></text></g>
<g id="g20"><rect class="ng" x="852" y="89" width="56" height="18"/><text class="tg" x="880" y="95.8">Nuyok: Support Producer<tspan x="880" dy="3.1">Marketing groups to establish</tspan><tspan x="880" dy="3.1">bulking centers</tspan></text></g>
<g id="g21"><rect class="ng" x="932" y="79" width="45" height="16"/><text class="tg" x="954.5" y="84.8">Nuyok: Support Bulking<tspan x="954.5" dy="3.1">Centers to establish</tspan><tspan x="954.5" dy="3.1">internal control systems</tspan></text></g>
<g id="g22"><rect class="ng" x="892" y="108" width="55" height="17"/><text class="tg" x="919.5" y="114.3">Nuyok: Support Bulking<tspan x="919.5" dy="3.1">Centers to set up information</tspan><tspan x="919.5" dy="3.1">management systems</tspan></text></g>
<g id="g23"><rect class="ng" x="963" y="104" width="57" height="16"/><text class="tg" x="991.5" y="109.8">Nuyok: Train PMGs on<tspan x="991.5" dy="3.1">selection of viable agricultural</tspan><tspan x="991.5" dy="3.1">enterprises</tspan></text></g>
<g id="g24"><rect class="ng" x="990" y="127" width="49" height="16"/><text class="tg" x="1014.5" y="132.8">Nuyok: Train PMGs on<tspan x="1014.5" dy="3.1">SMART Skills set by the</tspan><tspan x="1014.5" dy="3.1">Agriculture Agents</tspan></text></g>
<g id="g25"><rect class="ng" x="1036" y="85" width="39" height="22"/><text class="tgb" x="1055.5" y="92.25">Nuyok: Inclusive<tspan x="1055.5" dy="3.1">producer marketing</tspan><tspan x="1055.5" dy="3.1">groups formed/</tspan><tspan x="1055.5" dy="3.1">federations</tspan></text></g>
<g id="g26"><rect class="ng" x="1041" y="123" width="49" height="23"/><text class="tg" x="1065.5" y="130.75">Nuyok: Train executive<tspan x="1065.5" dy="3.1">members of the PMGs on</tspan><tspan x="1065.5" dy="3.1">bulking center</tspan><tspan x="1065.5" dy="3.1">management</tspan></text></g>
<g id="g27"><rect class="ny" x="1083" y="100" width="47" height="17"/><text class="tg" x="1106.5" y="106.3">IAM: Determine financial<tspan x="1106.5" dy="3.1">viability for market</tspan><tspan x="1106.5" dy="3.1">entity</tspan></text></g>
<g id="g28"><rect class="ny" x="1159" y="80" width="30" height="34"/><text class="tgb" x="1174" y="90.15">IAM: Deal sets<tspan x="1174" dy="3.1">(MOU) with Lira</tspan><tspan x="1174" dy="3.1">Resort (bulking</tspan><tspan x="1174" dy="3.1">grain) will cater</tspan><tspan x="1174" dy="3.1">to Northern</tspan><tspan x="1174" dy="3.1">Uganda</tspan></text></g>
<g id="g29"><rect class="ny" x="1108" y="129" width="49" height="11"/><text class="tg" x="1132.5" y="133.85">IAM (Provide) Set<tspan x="1132.5" dy="3.1">up stores for grain trading</tspan></text></g>
<g id="g30"><rect class="ng" x="1210" y="159" width="51" height="24"/><text class="tg" x="1235.5" y="167.25">Nuyok: Train executive<tspan x="1235.5" dy="3.1">members of the PMGs on</tspan><tspan x="1235.5" dy="3.1">contract management and</tspan><tspan x="1235.5" dy="3.1">negotiation skills</tspan></text></g>
<g id="g31"><rect class="ng" x="1288" y="154" width="38" height="29"/><text class="tgb" x="1307" y="163.2">Nuyok: Inclusive<tspan x="1307" dy="3.1">producer marketing</tspan><tspan x="1307" dy="3.1">groups signed</tspan><tspan x="1307" dy="3.1">trading agreements</tspan><tspan x="1307" dy="3.1">with traders</tspan></text></g>
<g id="g32"><rect class="ng" x="1216" y="188" width="48" height="27"/><text class="tg" x="1240" y="196.2">Nuyok: Support Bulking<tspan x="1240" dy="3.1">centers to negotiate</tspan><tspan x="1240" dy="3.1">contracts with larger</tspan><tspan x="1240" dy="3.1">organized traders for</tspan><tspan x="1240" dy="3.1">sale of produce</tspan></text></g>
<g id="g33"><rect class="ng" x="1255" y="277" width="50" height="50"/><text class="tg" x="1280" y="290.5">Apolou: Identify and<tspan x="1280" dy="3.1">partner with a potential</tspan><tspan x="1280" dy="3.1">and well willing private</tspan><tspan x="1280" dy="3.1">sector company to invest</tspan><tspan x="1280" dy="3.1">into PGO therefore crop</tspan><tspan x="1280" dy="3.1">production of a main</tspan><tspan x="1280" dy="3.1">crop suitable in Karamoja</tspan><tspan x="1280" dy="3.1">for marketing with more</tspan><tspan x="1280" dy="3.1">than one value chain</tspan></text></g>
<g id="g34"><rect class="ng" x="1198" y="307" width="54" height="30"/><text class="tg" x="1225" y="315.15">Apolou: Facilitate high<tspan x="1225" dy="3.1">level crop value chain</tspan><tspan x="1225" dy="3.1">meeting with target private</tspan><tspan x="1225" dy="3.1">sector actors, lead farmers,</tspan><tspan x="1225" dy="3.1">and the district production</tspan><tspan x="1225" dy="3.1">board</tspan></text></g>
<g id="g35"><rect class="ng" x="1260" y="342" width="36" height="32"/><text class="tgb" x="1278" y="351.15">Apolou: Support<tspan x="1278" dy="3.1">private sector</tspan><tspan x="1278" dy="3.1">partners to</tspan><tspan x="1278" dy="3.1">form Farmer</tspan><tspan x="1278" dy="3.1">Enterprise Groups</tspan><tspan x="1278" dy="3.1">(FEGs)</tspan></text></g>
<g id="g36"><rect class="ny" x="1015" y="386" width="63" height="55"/><text class="tg" x="1046.5" y="400.45">IAM (Proposed) Build<tspan x="1046.5" dy="3.1">relationships between</tspan><tspan x="1046.5" dy="3.1">the government or donor</tspan><tspan x="1046.5" dy="3.1">programs that seek to</tspan><tspan x="1046.5" dy="3.1">support community or</tspan><tspan x="1046.5" dy="3.1">producer organizations,</tspan><tspan x="1046.5" dy="3.1">and small-scale entrepreneurs</tspan><tspan x="1046.5" dy="3.1">including village agents,</tspan><tspan x="1046.5" dy="3.1">traders, and bulking</tspan><tspan x="1046.5" dy="3.1">depots</tspan></text></g>
<g id="g37"><rect class="ny" x="938" y="434" width="49" height="22"/><text class="tg" x="962.5" y="441.25">IAM (Proposed) Improve<tspan x="962.5" dy="3.1">capacity for management</tspan><tspan x="962.5" dy="3.1">and effective use of</tspan><tspan x="962.5" dy="3.1">assets</tspan></text></g>
<g id="g38"><rect class="ny" x="1016" y="454" width="32" height="16"/><text class="tgb" x="1032" y="459.8">IAM (Proposed)<tspan x="1032" dy="3.1">Conditional/Modern</tspan><tspan x="1032" dy="3.1">storage services</tspan></text></g>
<g id="g39"><rect class="ny" x="805" y="407" width="57" height="10"/><text class="tg" x="833.5" y="411.35">IAM: Set up grain aggregation<tspan x="833.5" dy="3.1">Stores</tspan></text></g>
<g id="g40"><rect class="ng" x="868" y="431" width="57" height="77"/><text class="tg" x="896.5" y="450.25">Apolou: Facilitate a<tspan x="896.5" dy="3.1">reporting platform for</tspan><tspan x="896.5" dy="3.1">alignment of all the</tspan><tspan x="896.5" dy="3.1">identified markets with</tspan><tspan x="896.5" dy="3.1">different Apolou-facilitated</tspan><tspan x="896.5" dy="3.1">community platforms such</tspan><tspan x="896.5" dy="3.1">as Radio, SMS, WCB etc.</tspan><tspan x="896.5" dy="3.1">to be providing daily</tspan><tspan x="896.5" dy="3.1">market prices on different</tspan><tspan x="896.5" dy="3.1">crop commodities depending</tspan><tspan x="896.5" dy="3.1">on the market days of the</tspan><tspan x="896.5" dy="3.1">identified markets</tspan><tspan x="896.5" dy="3.1">by the District Commercial</tspan><tspan x="896.5" dy="3.1">Office</tspan></text></g>
<g id="g41"><rect class="ng" x="824" y="473" width="37" height="35"/><text class="tgb" x="842.5" y="483.65">Apolou: Facilitate<tspan x="842.5" dy="3.1">District Market</tspan><tspan x="842.5" dy="3.1">and Production</tspan><tspan x="842.5" dy="3.1">Office to develop</tspan><tspan x="842.5" dy="3.1">and disseminate</tspan><tspan x="842.5" dy="3.1">market information</tspan></text></g>
<g id="g42"><rect class="ng" x="757" y="455" width="57" height="55"/><text class="tg" x="785.5" y="469.45">Apolou: Facilitate capacity<tspan x="785.5" dy="3.1">building trainings for</tspan><tspan x="785.5" dy="3.1">the DMPO to continually</tspan><tspan x="785.5" dy="3.1">produce and maintain</tspan><tspan x="785.5" dy="3.1">market information</tspan><tspan x="785.5" dy="3.1">from markets, analysis,</tspan><tspan x="785.5" dy="3.1">and dissemination</tspan><tspan x="785.5" dy="3.1">to Communities</tspan><tspan x="785.5" dy="3.1">in the local langs they</tspan><tspan x="785.5" dy="3.1">understand</tspan></text></g>
<g id="g43"><rect class="ng" x="697" y="466" width="47" height="18"/><text class="tg" x="720.5" y="472.8">Nuyok: Support IT for<tspan x="720.5" dy="3.1">analysis and dissemination of</tspan><tspan x="720.5" dy="3.1">the market information</tspan></text></g>
<g id="g44"><rect class="ng" x="711" y="492" width="37" height="18"/><text class="tgb" x="729.5" y="498.8">Nuyok: Market<tspan x="729.5" dy="3.1">information</tspan><tspan x="729.5" dy="3.1">systems developed</tspan></text></g>
<g id="g45"><rect class="ny" x="653" y="452" width="37" height="12"/><text class="tg" x="671.5" y="457.35">IAM (Provide) Set<tspan x="671.5" dy="3.1">up village agents</tspan></text></g>
<g id="g46"><rect class="ny" x="394" y="400" width="47" height="7"/><text class="tg" x="417.5" y="404.4">IAM: Set up input stores</text></g>
<g id="g47"><rect class="ng" x="341" y="435" width="42" height="12"/><text class="tg" x="362" y="440.35">Nuyok: Subsidize 800<tspan x="362" dy="3.1">source producers</tspan></text></g>
<g id="g48"><rect class="ny" x="389" y="460" width="47" height="29"/><text class="tgb" x="412.5" y="469.2">IAM: Partnership<tspan x="412.5" dy="3.1">through grant</tspan><tspan x="412.5" dy="3.1">with Dodo Agribusiness</tspan><tspan x="412.5" dy="3.1">(input output</tspan><tspan x="412.5" dy="3.1">agribusiness)</tspan></text></g>
<g id="g49"><rect class="ng" x="163" y="337" width="32" height="44"/><text class="tgb" x="179" y="349.05">Apolou: Support<tspan x="179" dy="3.1">private sector</tspan><tspan x="179" dy="3.1">to establish</tspan><tspan x="179" dy="3.1">marketing that</tspan><tspan x="179" dy="3.1">provide input</tspan><tspan x="179" dy="3.1">supplies for</tspan><tspan x="179" dy="3.1">nutrient dense</tspan><tspan x="179" dy="3.1">food</tspan></text></g>
<g id="g50"><rect class="ng" x="207" y="359" width="47" height="32"/><text class="tg" x="230.5" y="368.15">Apolou: Facilitate and<tspan x="230.5" dy="3.1">support seed multiplier</tspan><tspan x="230.5" dy="3.1">depositors to agro dealer</tspan><tspan x="230.5" dy="3.1">community village model</tspan><tspan x="230.5" dy="3.1">through Agent Spending</tspan><tspan x="230.5" dy="3.1">and Spending Model</tspan></text></g>
<g id="g51"><rect class="ng" x="212" y="313" width="50" height="39"/><text class="tg" x="237" y="324.1">Apolou: Facilitating<tspan x="237" dy="3.1">the District Production</tspan><tspan x="237" dy="3.1">and Marketing Office</tspan><tspan x="237" dy="3.1">to officially certify</tspan><tspan x="237" dy="3.1">the seed multipliers</tspan><tspan x="237" dy="3.1">and agro-dealers through</tspan><tspan x="237" dy="3.1">certification from UNBS</tspan></text></g>
<g id="g52"><rect class="ng" x="264" y="333" width="41" height="11"/><text class="tg" x="284.5" y="337.85">Nuyok: Subsidize 800<tspan x="284.5" dy="3.1">source multipliers</tspan></text></g>
<g id="g53"><rect class="ng" x="275" y="360" width="46" height="10"/><text class="tg" x="298" y="364.35">Nuyok: facilitate training<tspan x="298" dy="3.1">for seed multipliers</tspan></text></g>
<g id="g54"><rect class="ng" x="261" y="393" width="30" height="17"/><text class="tgb" x="276" y="399.3">Nuyok: 800 pilot<tspan x="276" dy="3.1">project with</tspan><tspan x="276" dy="3.1">Dadzi</tspan></text></g>
</g>

<g id="highlight-bars">
<path class="bar" d="M185,149 L248,99"/>
<path class="bar" d="M313,98 L352,180"/>
<path class="bar" d="M398,142 L360,182"/>
<path class="bar" stroke-width="10" d="M192,171 L222,191"/>
<path class="bar" stroke-width="10" d="M285,161 L300,206"/>
<path class="bar" d="M263,205.5 L284,205.5"/>
<path class="bar" stroke-width="12" d="M398,206 L486,215"/>
<path class="bar" d="M486,120 L492,212"/>
</g>

<g id="zoom-frame" fill="none" stroke="#000">
<rect x="154" y="68" width="380" height="173" stroke-width="3"/>
<path d="M154,68 L10,512 M154,241 L97,512 M534,68 L1172,512 M534,241 L773,512" stroke-width="1.5"/>
</g>
</svg>
